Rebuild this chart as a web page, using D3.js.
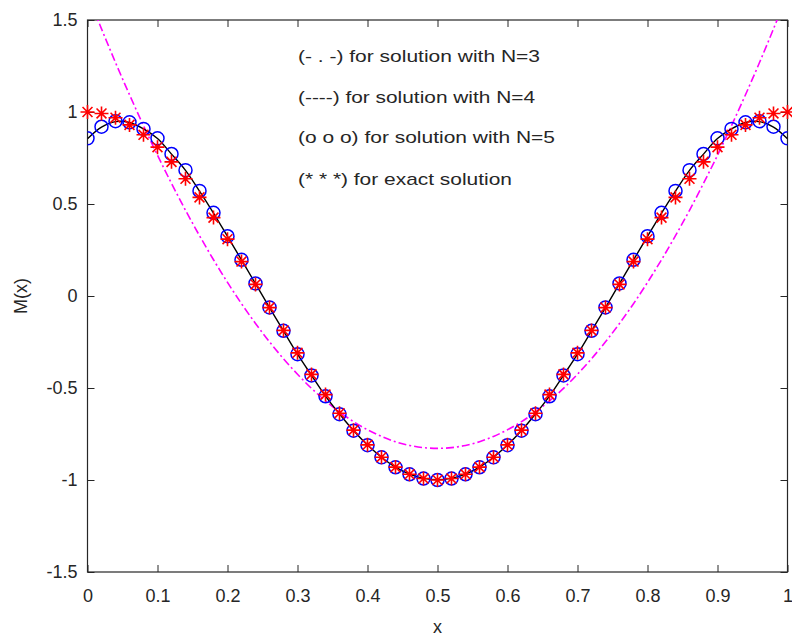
<!DOCTYPE html>
<html>
<head>
<meta charset="utf-8">
<script src="https://cdn.jsdelivr.net/npm/d3@7"></script>
<style>
  body { margin: 0; background: #fff; }
  svg text { font-family: "Liberation Sans", Arial, sans-serif; fill: #262626; }
</style>
</head>
<body>
<div id="chart"></div>
<script>
// data, x = 0 .. 1 step 0.02
const xValues = [0, 0.02, 0.04, 0.06, 0.08, 0.1, 0.12, 0.14, 0.16, 0.18, 0.2, 0.22, 0.24, 0.26, 0.28, 0.3,
  0.32, 0.34, 0.36, 0.38, 0.4, 0.42, 0.44, 0.46, 0.48, 0.5, 0.52, 0.54, 0.56, 0.58, 0.6, 0.62, 0.64, 0.66,
  0.68, 0.7, 0.72, 0.74, 0.76, 0.78, 0.8, 0.82, 0.84, 0.86, 0.88, 0.9, 0.92, 0.94, 0.96, 0.98, 1]

// (- . -) N=3
const solN3 = [1.641, 1.452, 1.269, 1.094, 0.926, 0.765, 0.612, 0.466, 0.328, 0.197, 0.074, -0.042, -0.149,
  -0.249, -0.341, -0.425, -0.502, -0.570, -0.630, -0.683, -0.727, -0.763, -0.792, -0.812, -0.824, -0.828,
  -0.824, -0.812, -0.792, -0.763, -0.727, -0.683, -0.630, -0.570, -0.502, -0.425, -0.341, -0.249, -0.149,
  -0.042, 0.074, 0.197, 0.328, 0.466, 0.612, 0.765, 0.926, 1.094, 1.269, 1.452, 1.641]

// (----) N=4
const solN4 = [0.855, 0.918, 0.948, 0.943, 0.908, 0.856, 0.771, 0.683, 0.570, 0.451, 0.324, 0.196, 0.067,
  -0.063, -0.190, -0.316, -0.431, -0.544, -0.641, -0.731, -0.810, -0.876, -0.930, -0.968, -0.991, -0.999,
  -0.991, -0.968, -0.930, -0.876, -0.810, -0.731, -0.641, -0.544, -0.431, -0.316, -0.190, -0.063, 0.067,
  0.196, 0.324, 0.451, 0.570, 0.683, 0.771, 0.856, 0.908, 0.943, 0.948, 0.918, 0.855]

// (o o o) N=5
const solN5 = [0.857, 0.920, 0.950, 0.944, 0.908, 0.857, 0.772, 0.684, 0.571, 0.452, 0.325, 0.197, 0.068,
  -0.062, -0.189, -0.316, -0.432, -0.545, -0.642, -0.732, -0.811, -0.877, -0.931, -0.969, -0.992, -1.000,
  -0.992, -0.969, -0.931, -0.877, -0.811, -0.732, -0.642, -0.545, -0.432, -0.316, -0.189, -0.062, 0.068,
  0.197, 0.325, 0.452, 0.571, 0.684, 0.772, 0.857, 0.908, 0.944, 0.950, 0.920, 0.857]

// (* * *) exact
const exact = [1.000, 0.992, 0.969, 0.930, 0.876, 0.809, 0.729, 0.637, 0.536, 0.426, 0.309, 0.187, 0.063,
  -0.063, -0.187, -0.309, -0.426, -0.536, -0.637, -0.729, -0.809, -0.876, -0.930, -0.969, -0.992, -1.000,
  -0.992, -0.969, -0.930, -0.876, -0.809, -0.729, -0.637, -0.536, -0.426, -0.309, -0.187, -0.063, 0.063,
  0.187, 0.309, 0.426, 0.536, 0.637, 0.729, 0.809, 0.876, 0.930, 0.969, 0.992, 1.000]

const xTicks = [0, 0.1, 0.2, 0.3, 0.4, 0.5, 0.6, 0.7, 0.8, 0.9, 1]
const yTicks = [-1.5, -1, -0.5, 0, 0.5, 1, 1.5]
const legendLines = [
  '(- . -) for solution with N=3',
  '(----) for solution with N=4',
  '(o o o) for solution with N=5',
  '(* * *) for exact solution'
]

const W = 792, H = 639
const margin = { left: 87.5, right: 4.5, top: 20, bottom: 67 }
const iw = W - margin.left - margin.right
const ih = H - margin.top - margin.bottom

const svg = d3.select('#chart').append('svg')
  .attr('width', W)
  .attr('height', H)

svg.append('rect').attr('width', W).attr('height', H).attr('fill', '#fff')

const x = d3.scaleLinear().domain([0, 1]).range([0, iw])
const y = d3.scaleLinear().domain([-1.5, 1.5]).range([ih, 0])

const g = svg.append('g').attr('transform', `translate(${margin.left},${margin.top})`)

svg.append('clipPath').attr('id', 'clip')
  .append('rect').attr('x', margin.left).attr('y', margin.top).attr('width', iw).attr('height', ih)

// axes, ticks pointing inward like matlab
const tick = 7
const fmt = d => String(d)
const ax = (sel) => sel.call(s => s.select('.domain').remove())
  .call(s => s.selectAll('.tick line').attr('stroke', '#262626'))

g.append('g').attr('transform', `translate(0,${ih})`)
  .call(d3.axisBottom(x).tickValues(xTicks).tickFormat(fmt).tickSize(-tick).tickPadding(17))
  .call(ax)
g.append('g')
  .call(d3.axisTop(x).tickValues(xTicks).tickFormat('').tickSize(-tick))
  .call(ax)
g.append('g')
  .call(d3.axisLeft(y).tickValues(yTicks).tickFormat(fmt).tickSize(-tick).tickPadding(10))
  .call(ax)
g.append('g').attr('transform', `translate(${iw},0)`)
  .call(d3.axisRight(y).tickValues(yTicks).tickFormat('').tickSize(-tick))
  .call(ax)

g.selectAll('.tick text').attr('font-size', 18).attr('fill', '#262626')
  .attr('font-family', '"Liberation Sans", Arial, sans-serif')

g.append('rect')
  .attr('width', iw).attr('height', ih)
  .attr('fill', 'none').attr('stroke', '#262626').attr('stroke-width', 1.2)

// series
const pts = (vals) => vals.map((v, i) => ({ x: xValues[i], y: v }))
const line = d3.line().x(d => x(d.x)).y(d => y(d.y)).curve(d3.curveCatmullRom)

const plot = svg.append('g').attr('clip-path', 'url(#clip)')
  .append('g').attr('transform', `translate(${margin.left},${margin.top})`)

plot.append('path')
  .datum(pts(solN3))
  .attr('fill', 'none')
  .attr('stroke', '#ff00ff')
  .attr('stroke-width', 1.6)
  .attr('stroke-dasharray', '8,3,2,3')
  .attr('d', line)

plot.append('path')
  .datum(pts(solN4))
  .attr('fill', 'none')
  .attr('stroke', '#000')
  .attr('stroke-width', 1.4)
  .attr('d', line)

plot.selectAll('.circ')
  .data(pts(solN5))
  .enter().append('circle')
  .attr('class', 'circ')
  .attr('cx', d => x(d.x))
  .attr('cy', d => y(d.y))
  .attr('r', 6.5)
  .attr('fill', 'none')
  .attr('stroke', '#0000ff')
  .attr('stroke-width', 1.5)

// matlab style '*' : plus and cross together
const star = {
  draw (ctx, size) {
    const r = Math.sqrt(size) / 2
    const d = r * Math.SQRT1_2
    ctx.moveTo(-r, 0); ctx.lineTo(r, 0)
    ctx.moveTo(0, -r); ctx.lineTo(0, r)
    ctx.moveTo(-d, -d); ctx.lineTo(d, d)
    ctx.moveTo(-d, d); ctx.lineTo(d, -d)
  }
}

svg.append('g').selectAll('.star')
  .data(pts(exact))
  .enter().append('path')
  .attr('class', 'star')
  .attr('transform', d => `translate(${margin.left + x(d.x)},${margin.top + y(d.y)})`)
  .attr('d', d3.symbol().type(star).size(196))
  .attr('fill', 'none')
  .attr('stroke', '#ff0000')
  .attr('stroke-width', 1.6)

// text block in the plot
const legendY = [56, 97, 137, 179]
const legendW = [242, 237, 257, 214]
svg.append('g').selectAll('text')
  .data(legendLines)
  .enter().append('text')
  .attr('x', 298)
  .attr('y', (d, i) => legendY[i])
  .attr('dy', '0.35em')
  .attr('font-size', 17)
  .attr('textLength', (d, i) => legendW[i])
  .attr('lengthAdjust', 'spacingAndGlyphs')
  .text(d => d)

// axis labels
svg.append('text')
  .attr('x', margin.left + iw / 2)
  .attr('y', 627)
  .attr('dy', '0.35em')
  .attr('text-anchor', 'middle')
  .attr('font-size', 18)
  .text('x')

svg.append('text')
  .attr('transform', `translate(21,${margin.top + ih / 2}) rotate(-90)`)
  .attr('dy', '0.35em')
  .attr('text-anchor', 'middle')
  .attr('font-size', 18)
  .text('M(x)')
</script>
</body>
</html>
